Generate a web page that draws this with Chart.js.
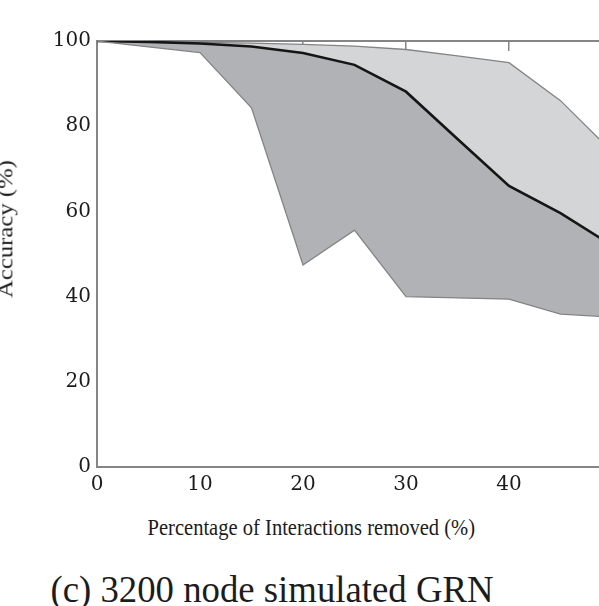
<!DOCTYPE html>
<html>
<head>
<meta charset="utf-8">
<script src="https://cdn.jsdelivr.net/npm/chart.js@4.4.1/dist/chart.umd.min.js"></script>
<style>
  html, body { margin: 0; padding: 0; background: #fff; overflow: hidden; }
  body { width: 599px; height: 606px; position: relative; }
  #chart { position: absolute; left: -3px; top: 0; }
  .lbl {
    position: absolute; white-space: nowrap; line-height: 1;
    font-family: "Liberation Serif", "Times New Roman", serif; color: #1c1c1c;
    transform-origin: center center;
  }
</style>
</head>
<body>
<canvas id="chart" width="640" height="500"></canvas>
<div id="ytitle" class="lbl" style="font-size:22px">Accuracy (%)</div>
<div id="xtitle" class="lbl" style="font-size:23px">Percentage of Interactions removed (%)</div>
<div id="caption" class="lbl" style="font-size:37px">(c) 3200 node simulated GRN</div>
<script>
// percentage of interactions removed
const removed = [0, 5, 10, 15, 20, 25, 30, 35, 40, 45, 50];
// accuracy (%)
const accMin  = [100, 98.6, 97.3, 84.3, 47.4, 55.6, 40.0, 39.7, 39.4, 35.9, 35.2];
const accMean = [100, 99.8, 99.4, 98.7, 97.2, 94.4, 88.1, 77.0, 66.0, 59.6, 52.0];
const accMax  = [100, 99.9, 99.7, 99.5, 99.2, 98.8, 98.0, 96.5, 94.9, 86.0, 74.0];
const xTicks = [0, 10, 20, 30, 40, 50];
const yTicks = [0, 20, 40, 60, 80, 100];

const pts = arr => arr.map((v, i) => ({x: removed[i], y: v}));

const axisGray = '#858585';
const tickFont = {family: '"DejaVu Serif", serif', size: 20};

const ctx = document.getElementById('chart').getContext('2d');
new Chart(ctx, {
  type: 'line',
  data: {
    datasets: [
      { label: 'min', data: pts(accMin), borderColor: '#848484', borderWidth: 1.3,
        fill: false, pointRadius: 0, tension: 0 },
      { label: 'mean', data: pts(accMean), borderColor: '#151515', borderWidth: 2.6,
        backgroundColor: '#b1b2b6', fill: 0, pointRadius: 0, tension: 0 },
      { label: 'max', data: pts(accMax), borderColor: '#848484', borderWidth: 1.3,
        backgroundColor: '#d4d5d7', fill: 1, pointRadius: 0, tension: 0 }
    ]
  },
  options: {
    responsive: false,
    animation: false,
    layout: { padding: { left: 0, right: 25, top: 0, bottom: 0 } },
    plugins: { legend: { display: false }, tooltip: { enabled: false } },
    scales: {
      x: {
        type: 'linear', position: 'bottom', min: 0, max: 50,
        afterBuildTicks: s => { s.ticks = xTicks.map(v => ({value: v})); },
        afterFit: s => { s.height = 33; },
        grid: { display: false, drawTicks: false },
        border: { color: axisGray, width: 2 },
        ticks: { padding: 6, color: '#1c1c1c', font: tickFont }
      },
      x2: {
        type: 'linear', position: 'top', min: 0, max: 50,
        afterBuildTicks: s => { s.ticks = xTicks.map(v => ({value: v})); },
        afterFit: s => { s.height = 41; },
        grid: { drawOnChartArea: false, drawTicks: true, tickLength: -10, color: axisGray, lineWidth: 1.5 },
        border: { color: axisGray, width: 2 },
        ticks: { display: false }
      },
      y: {
        type: 'linear', min: 0, max: 100,
        afterBuildTicks: s => { s.ticks = yTicks.map(v => ({value: v})); },
        afterFit: s => { s.width = 100; },
        grid: { display: false, drawTicks: false },
        border: { color: axisGray, width: 2 },
        ticks: { padding: 6, color: '#1c1c1c', font: tickFont }
      }
    }
  }
});

// place the text labels: scale each to its measured width, centre on its spot
function place(id, cx, baseline, targetLen, rotate) {
  const el = document.getElementById(id);
  const fs = parseFloat(el.style.fontSize);
  const w = el.offsetWidth, h = el.offsetHeight;
  const k = targetLen / w;
  const baseOff = 0.8375 * fs - h / 2;   // baseline below box centre
  if (rotate) {
    el.style.left = (cx - baseOff - w / 2) + 'px';
    el.style.top = (baseline - h / 2) + 'px';
    el.style.transform = 'rotate(-90deg) scaleX(' + k + ')';
  } else {
    el.style.left = (cx - w / 2) + 'px';
    el.style.top = (baseline - 0.8375 * fs) + 'px';
    el.style.transform = 'scaleX(' + k + ')';
  }
}
// ytitle: baseline x=13, centre y=229
place('ytitle', 13, 229, 138, true);
place('xtitle', 311, 535, 328, false);
place('caption', 271.5, 602, 443, false);
</script>
</body>
</html>
